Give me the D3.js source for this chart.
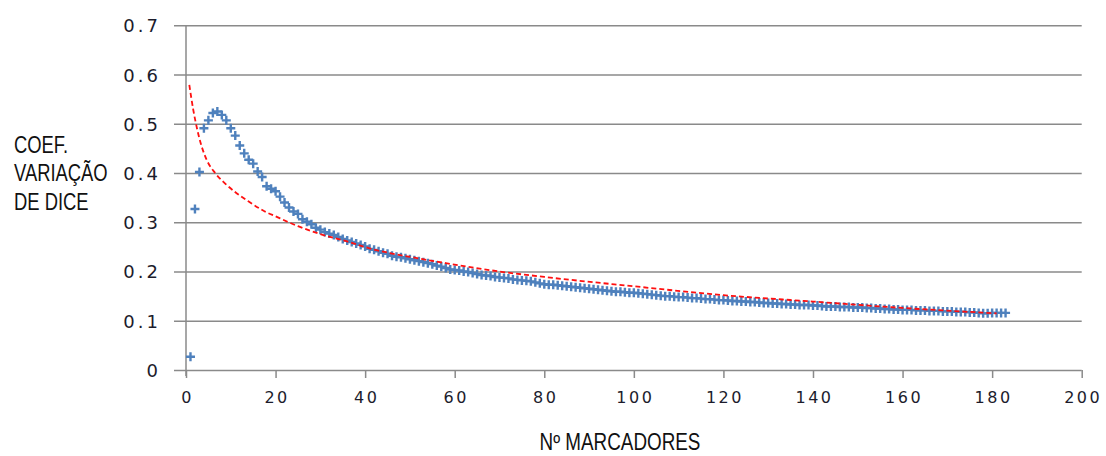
<!DOCTYPE html>
<html>
<head>
<meta charset="utf-8">
<script src="https://cdn.jsdelivr.net/npm/d3@7"></script>
<style>
  body { margin: 0; background: #fff; }
  svg { display: block; }
  .tick text { fill: #1c1c2c; }
</style>
</head>
<body>
<div id="graph"></div>
<script>
// chart values
var xTicks = [0, 20, 40, 60, 80, 100, 120, 140, 160, 180, 200];
var yTicks = [0, 0.1, 0.2, 0.3, 0.4, 0.5, 0.6, 0.7];
var yTickLabels = ["0", "0.1", "0.2", "0.3", "0.4", "0.5", "0.6", "0.7"];
var yTitle = ["COEF.", "VARIAÇÃO", "DE DICE"];
var xTitle = "Nº MARCADORES";

// blue points: coefficient for 1..183 markers
var dice = [
  0.027, 0.327, 0.402, 0.491, 0.507, 0.522, 0.525, 0.518, 0.507, 0.491,
  0.476, 0.456, 0.440, 0.427, 0.419, 0.403, 0.392, 0.373, 0.368, 0.363,
  0.352, 0.340, 0.330, 0.322, 0.317, 0.306, 0.301, 0.296, 0.289, 0.285,
  0.280, 0.277, 0.274, 0.270, 0.266, 0.263, 0.260, 0.257, 0.254, 0.251,
  0.246, 0.244, 0.241, 0.238, 0.236, 0.232, 0.230, 0.229, 0.227, 0.225,
  0.223, 0.221, 0.219, 0.217, 0.215, 0.212, 0.210, 0.207, 0.204, 0.203,
  0.202, 0.200, 0.199, 0.197, 0.195, 0.193, 0.192, 0.191, 0.189, 0.188,
  0.187, 0.186, 0.184, 0.183, 0.182, 0.181, 0.180, 0.178, 0.176, 0.174,
  0.173, 0.173, 0.172, 0.171, 0.170, 0.169, 0.168, 0.167, 0.166, 0.165,
  0.164, 0.163, 0.162, 0.161, 0.160, 0.159, 0.159, 0.158, 0.157, 0.157,
  0.156, 0.155, 0.154, 0.153, 0.152, 0.151, 0.150, 0.150, 0.149, 0.148,
  0.148, 0.147, 0.146, 0.146, 0.145, 0.144, 0.144, 0.143, 0.142, 0.142,
  0.141, 0.140, 0.140, 0.139, 0.139, 0.138, 0.138, 0.137, 0.136, 0.136,
  0.135, 0.135, 0.134, 0.134, 0.133, 0.133, 0.132, 0.132, 0.132, 0.131,
  0.131, 0.130, 0.129, 0.129, 0.129, 0.128, 0.128, 0.128, 0.127, 0.127,
  0.127, 0.126, 0.126, 0.125, 0.125, 0.124, 0.124, 0.123, 0.123, 0.122,
  0.122, 0.122, 0.121, 0.121, 0.121, 0.120, 0.120, 0.120, 0.119, 0.119,
  0.119, 0.118, 0.118, 0.118, 0.117, 0.117, 0.116, 0.115, 0.115, 0.116,
  0.116, 0.116, 0.116
];

// red dashed trend line
var trendX = [0.74, 1.63, 2.52, 3.5, 4.6, 6.5, 8.7, 11.3, 14, 17.6, 20, 25, 30, 36, 41, 51, 58, 70, 80, 100, 120, 140, 160, 181];
var trendY = [0.579, 0.528, 0.488, 0.454, 0.427, 0.400, 0.379, 0.359, 0.342, 0.322, 0.312, 0.292, 0.276, 0.261, 0.247, 0.228, 0.217, 0.200, 0.189, 0.170, 0.152, 0.139, 0.126, 0.115];

var width = 1106;
var height = 456;

window.onload = start;

function start() {
    var svg = d3.select('#graph')
        .append('svg')
        .attr('width', width)
        .attr('height', height);

    var xScale = d3.scaleLinear().domain([0, 200]).range([186, 1081.7]);
    var yScale = d3.scaleLinear().domain([0, 0.7]).range([370, 25.3]);

    var gridColor = '#8a8a8a';
    var tickFont = '"DejaVu Sans", Verdana, sans-serif';
    // no narrow face installed, so squeeze Liberation Sans sideways
    var titleFont = '"Liberation Sans", Arial, sans-serif';

    // y axis with gridlines across the plot
    var yAxis = svg.append('g')
        .attr('transform', 'translate(' + xScale(0) + ',0)')
        .call(d3.axisLeft(yScale)
            .tickValues(yTicks)
            .tickSize(12)
            .tickFormat(function(d, i) { return yTickLabels[i]; }));
    yAxis.select('.domain')
        .attr('d', 'M0,' + yScale(0.7) + 'V' + (yScale(0) + 6))
        .attr('stroke', gridColor)
        .attr('stroke-width', 1.5);
    yAxis.selectAll('.tick line')
        .attr('x1', -12)
        .attr('x2', xScale(200) - xScale(0))
        .attr('stroke', gridColor)
        .attr('stroke-width', 1.5);
    yAxis.selectAll('.tick text')
        .attr('x', -25)
        .attr('dy', '0.36em')
        .style('font-family', tickFont)
        .style('font-size', '18px')
        .style('letter-spacing', '3px');

    // x axis ticks and labels
    var xAxis = svg.append('g')
        .attr('transform', 'translate(0,' + yScale(0) + ')')
        .call(d3.axisBottom(xScale)
            .tickValues(xTicks)
            .tickSize(8)
            .tickFormat(d3.format('d')));
    xAxis.select('.domain').remove();
    xAxis.selectAll('.tick line')
        .attr('stroke', gridColor)
        .attr('stroke-width', 1.5);
    xAxis.selectAll('.tick text')
        .attr('y', 33)
        .attr('dy', 0)
        .attr('dx', 1)
        .style('font-family', tickFont)
        .style('font-size', '16px')
        .style('letter-spacing', '2.5px');

    // trend line
    var trend = trendX.map(function(x, i) { return [x, trendY[i]]; });
    var line = d3.line()
        .x(function(d) { return xScale(d[0]); })
        .y(function(d) { return yScale(d[1]); })
        .curve(d3.curveMonotoneX);

    // blue cross markers
    var pts = dice.map(function(v, i) { return [i + 1, v]; });
    svg.append('g')
        .selectAll('.dot')
        .data(pts)
        .enter()
        .append('path')
        .attr('class', 'dot')
        .attr('transform', function(d) {
            return 'translate(' + xScale(d[0]) + ',' + yScale(d[1]) + ')';
        })
        .attr('d', 'M-4.5,0H4.5M0,-4.5V4.5')
        .attr('stroke', '#4f81bd')
        .attr('stroke-width', 2.4)
        .attr('fill', 'none');

    svg.append('path')
        .datum(trend)
        .attr('d', line)
        .attr('fill', 'none')
        .attr('stroke', '#ff1010')
        .attr('stroke-width', 1.8)
        .attr('stroke-dasharray', '5,3');

    // axis titles
    svg.append('text')
        .attr('transform', 'translate(14,153) scale(0.8,1)')
        .style('font-family', titleFont)
        .style('font-size', '23px')
        .style('fill', '#111')
        .selectAll('tspan')
        .data(yTitle)
        .enter()
        .append('tspan')
        .attr('x', 0)
        .attr('dy', function(d, i) { return i === 0 ? 0 : 28.5; })
        .text(function(d) { return d; });

    svg.append('text')
        .attr('transform', 'translate(620,450) scale(0.82,1)')
        .attr('text-anchor', 'middle')
        .style('font-family', titleFont)
        .style('font-size', '23px')
        .style('fill', '#111')
        .text(xTitle);
}
</script>
</body>
</html>
